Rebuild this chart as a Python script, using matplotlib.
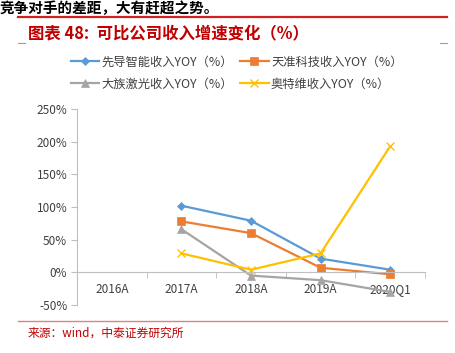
import matplotlib
matplotlib.use("Agg")
import matplotlib.pyplot as plt
from matplotlib.lines import Line2D

plt.rcParams['font.family'] = ['Noto Sans CJK SC', 'DejaVu Sans']

categories = ['2016A', '2017A', '2018A', '2019A', '2020Q1']
x_idx = [1, 2, 3, 4]
xiandao = [102, 79, 21, 4]
tianzhun = [78, 60, 7, -3]
dazu = [66, -5, -12, -30]
aotewei = [29, 4, 29, 193]
yticks = [-50, 0, 50, 100, 150, 200, 250]
ytick_labels = ['-50%', '0%', '50%', '100%', '150%', '200%', '250%']

series = [
    ('先导智能收入YOY（%）', xiandao, '#5B9BD5', 'D', 4),
    ('天准科技收入YOY（%）', tianzhun, '#ED7D31', 's', 6),
    ('大族激光收入YOY（%）', dazu, '#A5A5A5', '^', 6),
    ('奥特维收入YOY（%）', aotewei, '#FFC000', 'x', 5.5),
]

W, H = 455, 353
fig = plt.figure(figsize=(W / 100, H / 100), dpi=100)

# header text
fig.text(0.0, 1.0, '竞争对手的差距，大有赶超之势。', fontsize=10.5, fontweight='bold',
         color='black', va='top', ha='left')
red = '#C00000'
fig.add_artist(Line2D([18 / W, 447 / W], [1 - 16.5 / H, 1 - 16.5 / H], color='#D02020', lw=1.6))
fig.text(28 / W, 1 - 33 / H, '图表 48:  可比公司收入增速变化（%）', fontsize=11.8, fontweight='bold',
         color=red, va='center', ha='left', style='italic')
for x0, x1 in [(18, 25), (440, 447)]:
    fig.add_artist(Line2D([x0 / W, x1 / W], [1 - 43 / H, 1 - 43 / H], color='#E08080', lw=0.8))
fig.add_artist(Line2D([18 / W, 447 / W], [1 - 320.5 / H, 1 - 320.5 / H], color='#E08080', lw=1.0))
fig.text(28 / W, 1 - 333 / H, '来源：wind，中泰证券研究所', fontsize=8.5, color='#C00000',
         va='center', ha='left')

ax = fig.add_axes([77 / W, 1 - 305 / H, 348 / W, 196 / H])
for name, vals, c, m, ms in series:
    ax.plot(x_idx, vals, color=c, lw=1.6, marker=m, markersize=ms, label=name,
            markeredgewidth=1.0 if m == 'x' else 0.5)

ax.set_xlim(-0.5, 4.5)
ax.set_ylim(-50, 250)
ax.set_yticks(yticks)
ax.set_yticklabels(ytick_labels)
ax.set_xticks(range(len(categories)))
ax.set_xticklabels(categories)
ax.set_xticks([i - 0.5 for i in range(len(categories) + 1)], minor=True)
ax.tick_params(axis='x', which='major', length=0, pad=8, labelsize=8.5, labelcolor='#404040')
ax.tick_params(axis='x', which='minor', length=4, color='#BFBFBF', direction='out')
ax.tick_params(axis='y', length=4, color='#BFBFBF', labelsize=8.5, labelcolor='#404040', pad=3)
for s in ['top', 'right']:
    ax.spines[s].set_visible(False)
ax.spines['bottom'].set_position(('data', 0))
ax.spines['bottom'].set_color('#BFBFBF')
ax.spines['left'].set_color('#BFBFBF')

handles, labels = ax.get_legend_handles_labels()
order = [0, 2, 1, 3]
fig.legend([handles[i] for i in order], [labels[i] for i in order], ncol=2,
           loc='center left', bbox_to_anchor=(60 / W, 1 - 73 / H), frameon=False,
           fontsize=8.8, handlelength=2.3, handletextpad=0.2, columnspacing=0.6,
           labelspacing=0.75, labelcolor='#404040')

fig.savefig('out.png', dpi=100)
